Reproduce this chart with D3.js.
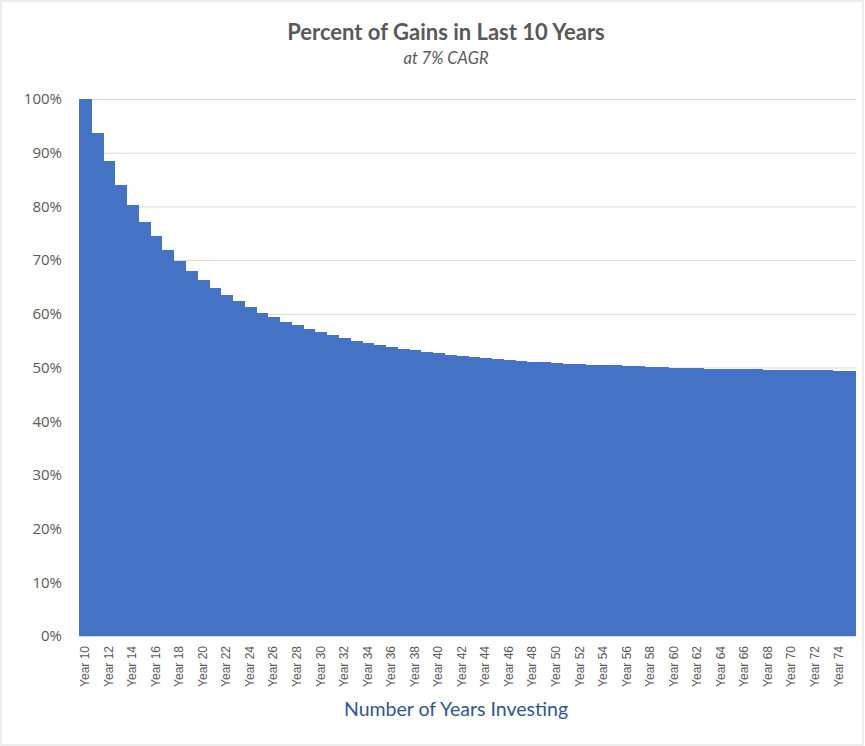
<!DOCTYPE html>
<html>
<head>
<meta charset="utf-8">
<script src="https://cdn.jsdelivr.net/npm/d3@7"></script>
<style>
  body { margin: 0; background: #fff; }
  svg text { font-family: Lato, "Open Sans", sans-serif; }
</style>
</head>
<body>
<svg id="chart"></svg>
<script>
// years invested, shown on the x axis
const years = d3.range(10, 76).map(y => "Year " + y);

// share of total gains earned in the last 10 years (%)
const gainsPct = [
  100, 93.7, 88.5, 84.0, 80.3, 77.1, 74.4, 71.9, 69.9, 68.0,
  66.3, 64.8, 63.5, 62.3, 61.3, 60.2, 59.4, 58.5, 57.9, 57.2,
  56.6, 56.0, 55.5, 54.9, 54.6, 54.2, 53.8, 53.4, 53.3, 52.9,
  52.7, 52.3, 52.1, 52.0, 51.8, 51.6, 51.4, 51.2, 51.1, 51.0,
  50.8, 50.7, 50.6, 50.5, 50.5, 50.4, 50.3, 50.2, 50.1, 50.1,
  50.0, 49.9, 49.9, 49.8, 49.8, 49.7, 49.7, 49.7, 49.6, 49.6,
  49.5, 49.5, 49.5, 49.5, 49.4, 49.3
];

const yTicks = [0, 10, 20, 30, 40, 50, 60, 70, 80, 90, 100];

const title = "Percent of Gains in Last 10 Years";
const subtitle = "at 7% CAGR";
const xTitle = "Number of Years Investing";

const width = 865, height = 746;
const margin = { top: 99, right: 9, bottom: 110, left: 79 };

const svg = d3.select("#chart")
    .attr("width", width)
    .attr("height", height);

// chart border
svg.append("rect")
    .attr("x", 1).attr("y", 1)
    .attr("width", 862).attr("height", 744)
    .attr("fill", "#fff")
    .attr("stroke", "#d9d9d9");

const x = d3.scaleBand()
    .domain(years)
    .range([margin.left, width - margin.right])
    .padding(0);

const y = d3.scaleLinear()
    .domain([0, 100])
    .range([height - margin.bottom, margin.top]);

// gridlines
svg.append("g")
    .selectAll("line")
    .data(yTicks)
    .join("line")
    .attr("x1", margin.left)
    .attr("x2", width - margin.right)
    .attr("y1", d => y(d) + 0.5)
    .attr("y2", d => y(d) + 0.5)
    .attr("stroke", "#d9d9d9")
    .attr("stroke-width", 1);

// bars - overlap slightly so no seams show between them
svg.append("g")
    .attr("shape-rendering", "crispEdges")
    .selectAll("rect")
    .data(gainsPct)
    .join("rect")
    .attr("x", (d, i) => x(years[i]))
    .attr("width", (d, i) => i === gainsPct.length - 1 ? x.bandwidth() : x.bandwidth() + 1)
    .attr("y", d => y(d))
    .attr("height", d => y(0) - y(d))
    .attr("fill", "#4472c4");

// y axis
const yAxis = svg.append("g")
    .attr("transform", `translate(${margin.left - 17},0)`)
    .call(d3.axisLeft(y).tickValues(yTicks).tickFormat(d => d + "%").tickSize(0).tickPadding(0));
yAxis.select(".domain").remove();
yAxis.selectAll("text")
    .attr("fill", "#595959")
    .style("font-size", "15px")
    .style("font-family", "'Open Sans', sans-serif");

// x axis (every second label)
const xAxis = svg.append("g")
    .attr("transform", `translate(0,${y(0)})`)
    .call(d3.axisBottom(x).tickValues(years.filter((d, i) => i % 2 === 0)).tickSize(0).tickPadding(0));
xAxis.select(".domain").remove();
xAxis.selectAll("text")
    .attr("fill", "#595959")
    .style("font-size", "12px")
    .style("font-family", "'Liberation Sans', sans-serif")
    .attr("transform", "rotate(-90)")
    .attr("text-anchor", "end")
    .attr("x", -10)
    .attr("y", 0)
    .attr("dy", "0.35em");

// titles
svg.append("text")
    .attr("x", 446).attr("y", 40)
    .attr("text-anchor", "middle")
    .attr("fill", "#595959")
    .style("font-size", "22px")
    .style("font-weight", "bold")
    .text(title);

svg.append("text")
    .attr("x", 446).attr("y", 64)
    .attr("text-anchor", "middle")
    .attr("fill", "#595959")
    .style("font-size", "16.5px")
    .style("font-style", "italic")
    .text(subtitle);

svg.append("text")
    .attr("x", 456).attr("y", 716)
    .attr("text-anchor", "middle")
    .attr("fill", "#2f5597")
    .style("font-size", "19.5px")
    .text(xTitle);
</script>
</body>
</html>
